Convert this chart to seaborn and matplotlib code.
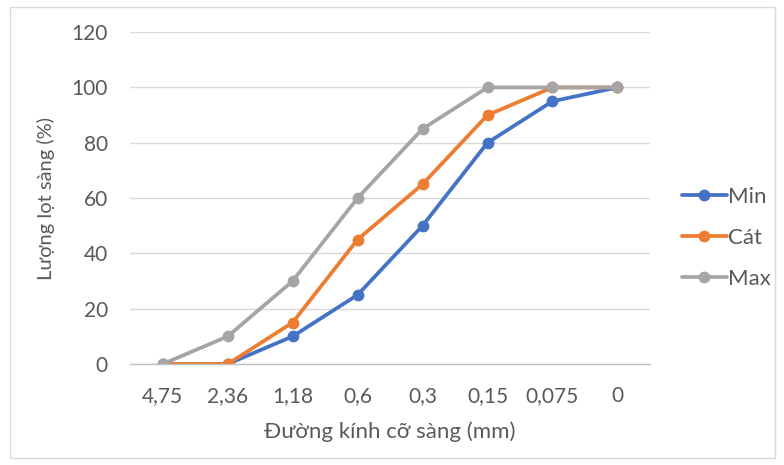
import matplotlib
matplotlib.use("Agg")
import matplotlib.pyplot as plt
from matplotlib.patches import Rectangle
from matplotlib.lines import Line2D
from matplotlib.ticker import FixedLocator
import seaborn as sns
import pandas as pd

# Sieve sizes (mm) and cumulative passing (%)
sieves = ["4,75", "2,36", "1,18", "0,6", "0,3", "0,15", "0,075", "0"]
min_pass = [0, 0, 10, 25, 50, 80, 95, 100]
cat_pass = [0, 0, 15, 45, 65, 90, 100, 100]
max_pass = [0, 10, 30, 60, 85, 100, 100, 100]
series_names = ["Min", "Cát", "Max"]
y_ticks = [0, 20, 40, 60, 80, 100, 120]

sns.set_theme(style="white")
plt.rcParams["font.family"] = ["Lato", "DejaVu Sans"]

frames = []
for name, vals in zip(series_names, [min_pass, cat_pass, max_pass]):
    frames.append(pd.DataFrame({"sieve": sieves, "pass": vals, "series": name}))
df = pd.concat(frames, ignore_index=True)

palette = {"Min": "#4472C4", "Cát": "#ED7D31", "Max": "#A5A5A5"}
text_color = "#595959"
lw, ms = 2.7, 8.5

fig = plt.figure(figsize=(7.84, 4.65), dpi=100)
ax = fig.add_axes([0.166, 0.217, 0.663, 0.714])

sns.lineplot(data=df, x="sieve", y="pass", hue="series", palette=palette,
             hue_order=series_names, sort=False, marker="o", markersize=ms,
             markeredgewidth=0, linewidth=lw, ax=ax, legend=False)

ax.set_xlim(-0.5, len(sieves) - 0.5)
ax.set_ylim(0, 120)
ax.set_yticks(y_ticks)
ax.set_xticks(range(len(sieves)))
ax.set_xticklabels(sieves)
ax.xaxis.set_minor_locator(FixedLocator([i - 0.5 for i in range(len(sieves) + 1)]))
ax.tick_params(axis="x", which="major", length=0, pad=16, labelsize=15, colors=text_color)
ax.tick_params(axis="x", which="minor", length=5, width=1, color="#BFBFBF", direction="out")
ax.tick_params(axis="y", length=0, pad=16, labelsize=15, colors=text_color)
ax.grid(axis="y", color="#D9D9D9", linewidth=1)
ax.set_axisbelow(True)
for side in ["top", "right", "left"]:
    ax.spines[side].set_visible(False)
ax.spines["bottom"].set_color("#BFBFBF")
ax.spines["bottom"].set_linewidth(1)

ax.set_xlabel("Đường kính cỡ sàng (mm)", fontsize=16, color=text_color, labelpad=11)
ax.set_ylabel("Lượng lọt sàng (%)", fontsize=14.5, color=text_color, labelpad=12)

handles = [Line2D([], [], color=palette[n], marker="o", markersize=ms,
                  markeredgewidth=0, linewidth=lw) for n in series_names]
fig.legend(handles, series_names, loc="center left", bbox_to_anchor=(0.8556, 0.488),
           frameon=False, fontsize=16, labelcolor=text_color, handlelength=2.03,
           handletextpad=0.05, labelspacing=0.95, borderpad=0.0)

fig.add_artist(Rectangle((0.013, 0.015), 0.975, 0.97, transform=fig.transFigure,
                         fill=False, edgecolor="#D9D9D9", linewidth=1))

fig.savefig("out.png", dpi=100, facecolor="white")
